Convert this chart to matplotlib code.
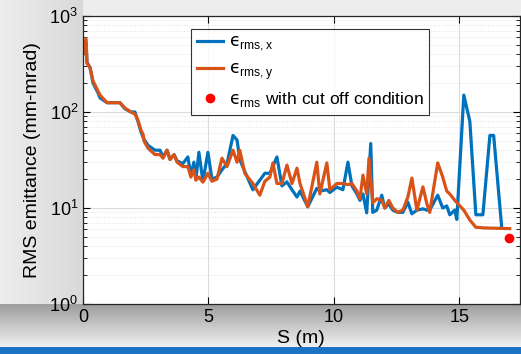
import numpy as np
import matplotlib
matplotlib.use('Agg')
import matplotlib.pyplot as plt

plt.rcParams['font.family'] = ['Liberation Sans', 'DejaVu Sans']
plt.rcParams['mathtext.fontset'] = 'custom'
plt.rcParams['mathtext.rm'] = 'Liberation Sans'
plt.rcParams['mathtext.it'] = 'DejaVu Sans'

# emittance along the beamline, x plane
s_x = [0, 0.12, 0.16, 0.28, 0.4, 0.6, 0.68, 0.96, 1.47, 1.67, 1.91, 2.07, 2.19, 2.31,
       2.43, 2.59, 2.87, 3.07, 3.19, 3.35, 3.47, 3.63, 3.75, 3.98, 4.18, 4.30, 4.42,
       4.50, 4.62, 4.78, 4.98, 5.14, 5.34, 5.54, 5.74, 5.98, 6.14, 6.25, 6.45, 6.77,
       7.05, 7.25, 7.45, 7.73, 7.93, 8.13, 8.33, 8.53, 8.65, 8.96, 9.32, 9.44, 9.72,
       9.84, 10.12, 10.36, 10.56, 10.72, 10.92, 11.04, 11.16, 11.31, 11.47, 11.55,
       11.71, 11.91, 12.03, 12.19, 12.35, 12.55, 12.75, 12.95, 13.11, 13.31, 13.55,
       13.71, 13.82, 14.14, 14.34, 14.5, 14.62, 14.82, 14.9, 15.18, 15.42, 15.66,
       15.94, 16.22, 16.37, 16.69]
eps_x = [420, 540, 330, 290, 200, 158, 140, 125, 125, 108, 100, 100, 80, 62,
         52, 45, 40, 40, 34, 40, 32, 36, 31, 29, 34, 22, 30,
         20, 38, 19, 38, 20, 21, 25, 29, 57, 51, 32, 24, 15.5,
         19.5, 23, 23, 34, 17, 18.7, 15.5, 13, 15, 10.3, 16, 15, 15.5,
         14.5, 16.5, 15.5, 30, 17, 14, 12, 14, 8.9, 47, 9,
         9.5, 13.6, 10, 11, 9.5, 9, 9, 11.5, 8.7, 9.5, 9.8,
         9.5, 9.5, 13.6, 10, 10.5, 8.5, 9.5, 7.6, 150, 80, 8.5,
         8.5, 57, 57, 6.3]

# y plane
s_y = [0, 0.12, 0.16, 0.28, 0.4, 0.6, 0.68, 0.96, 1.47, 1.67, 1.91, 2.07, 2.19, 2.31,
       2.4, 2.43, 2.59, 2.87, 3.07, 3.19, 3.35, 3.47, 3.63, 3.75, 3.98, 4.18, 4.30,
       4.42, 4.50, 4.62, 4.78, 4.98, 5.14, 5.34, 5.54, 5.74, 5.98, 6.14, 6.25, 6.45,
       6.77, 7.05, 7.25, 7.45, 7.57, 7.73, 7.93, 8.13, 8.33, 8.53, 8.65, 8.96, 9.32,
       9.44, 9.72, 9.84, 10.12, 10.36, 10.56, 10.72, 10.92, 11.04, 11.16, 11.31,
       11.40, 11.55, 11.71, 11.91, 12.03, 12.19, 12.35, 12.55, 12.75, 12.95, 13.11,
       13.31, 13.55, 13.71, 13.82, 14.14, 14.34, 14.5, 14.62, 14.82, 15.18, 15.42,
       15.66, 16.0, 17.01]
eps_y = [400, 580, 320, 290, 210, 165, 150, 125, 125, 110, 100, 95, 82, 65,
         58, 50, 42, 36, 36, 33, 40, 32, 36, 30, 27, 27, 21,
         25, 19.5, 21, 18.6, 23, 19, 20, 33, 27, 40, 30, 40, 23,
         18, 13.6, 19, 21, 29.5, 18, 18, 28, 18, 26, 18, 10.3, 30,
         14, 29.5, 15.5, 18, 18, 17.5, 18, 15, 12.5, 22, 14,
         33, 11.3, 12.5, 12, 10, 12, 10, 9, 9.5, 13, 20.5,
         9.5, 16.6, 11, 9, 29.5, 21, 15, 14, 12, 9.5, 7.5,
         6.3, 6.2, 6.1]

# cut off condition point
s_cut = [17.0]
eps_cut = [4.9]

W, H = 521, 354
fig = plt.figure(figsize=(W / 100, H / 100), dpi=100)

# shaded backdrop (rough imitation of the screenshot)
bg = fig.add_axes([0, 0, 1, 1], zorder=-5)
yy, xx = np.mgrid[0:H, 0:W]
g = np.full((H, W), 0.93)
g[xx < 83] = 0.93 - 0.08 * (xx[xx < 83] / 83.0)
band = (yy >= 304) & (yy < 347)
t = (yy[band] - 304) / 43.0
g[band] = 0.62 + 0.33 * t
img = np.dstack([g, g, g])
img[yy >= 347] = [0.12, 0.45, 0.78]
bg.imshow(img, aspect='auto', extent=[0, 1, 0, 1], interpolation='bilinear')
bg.axis('off')

ax = fig.add_axes([83 / W, 1 - 304 / H, 436.5 / W, 288 / H])
ax.set_facecolor('white')

ax.semilogy(s_x, eps_x, color='#0072BD', lw=2.3, label='$\u03f5_{\\rm rms,x}$')
ax.semilogy(s_y, eps_y, color='#D95319', lw=2.3, label='$\u03f5_{\\rm rms,y}$')
ax.semilogy(s_cut, eps_cut, 'o', color='red', ms=7, mec='none',
            label='$\u03f5_{\\rm rms}$ with cut off condition')

ax.set_xlim(0, 17.4)
ax.set_ylim(1, 1000)
ax.set_xticks([0, 5, 10, 15])
ax.grid(True, which='major', color='#dcdcdc', lw=0.8)
ax.grid(True, which='minor', color='#e2e2e2', lw=0.7, ls=':')
ax.tick_params(which='both', direction='in', top=True, right=True, labelsize=13)
ax.tick_params(which='major', length=5)
ax.tick_params(which='minor', length=3)
for sp in ax.spines.values():
    sp.set_linewidth(0.9)
    sp.set_color('#262626')

ax.set_xlabel('S (m)', fontsize=14, labelpad=3)
ax.set_ylabel('RMS emittance (mm-mrad)', fontsize=14, labelpad=6)

leg = ax.legend(loc='upper left', bbox_to_anchor=(0.248, 0.956), fontsize=12.5,
                frameon=True, fancybox=False, edgecolor='black',
                handlelength=1.5, handletextpad=0.3, borderpad=0.35,
                borderaxespad=0, labelspacing=0.45)
leg.get_frame().set_linewidth(0.8)

fig.savefig('out.png', dpi=100)
